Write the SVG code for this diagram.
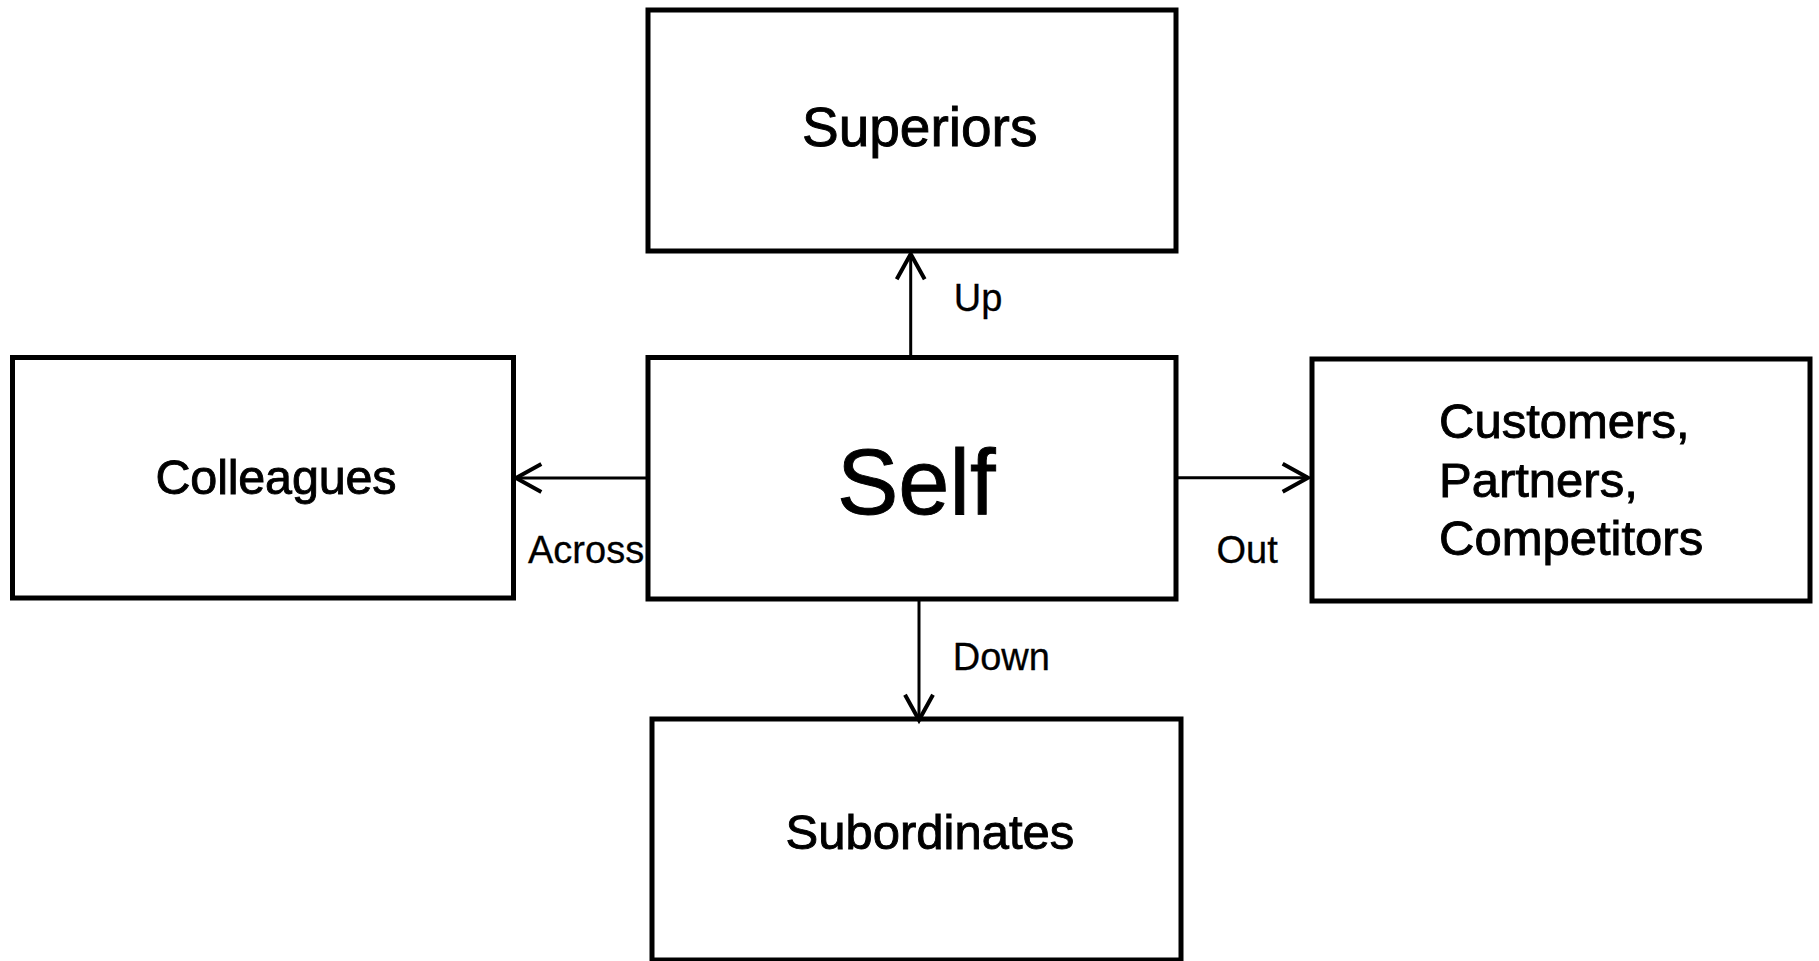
<svg xmlns="http://www.w3.org/2000/svg" width="1819" height="961" viewBox="0 0 1819 961">
<style>
.box{fill:#fff;stroke:#000;stroke-width:5}
.big{font-family:"Liberation Sans",Arial,sans-serif;fill:#000;stroke:#000;stroke-width:0.9}
.lbl{font-family:"Liberation Sans",Arial,sans-serif;font-size:38px;fill:#000;stroke:#000;stroke-width:0.3}
.conn{stroke:#000;stroke-width:3;fill:none}
</style>
<defs>
<marker id="arr" markerUnits="userSpaceOnUse" markerWidth="40" markerHeight="40" viewBox="-25 -15 30 30" refX="0" refY="0" orient="auto" overflow="visible">
<path d="M-19,-10.5 L0,0 L-19,10.5" fill="none" stroke="#000" stroke-width="3" stroke-linejoin="miter"/>
</marker>
</defs>
<rect width="1819" height="961" fill="#fff"/>
<g id="superiors">
<rect class="box" x="648" y="10" width="528" height="241"/>
<text class="big" x="802" y="146" font-size="55">Superiors</text>
</g>
<g id="self">
<rect class="box" x="648" y="357.5" width="528" height="241.5"/>
<text class="big" x="837" y="514" font-size="92">Self</text>
</g>
<g id="colleagues">
<rect class="box" x="12.5" y="357.5" width="501" height="240.5"/>
<text class="big" x="155.5" y="494" font-size="48.5" textLength="241">Colleagues</text>
</g>
<g id="customers">
<rect class="box" x="1312" y="359" width="498" height="242"/>
<text class="big" font-size="49"><tspan x="1439" y="438">Customers,</tspan><tspan x="1439" y="496.5">Partners,</tspan><tspan x="1439" y="555">Competitors</tspan></text>
</g>
<g id="subordinates">
<rect class="box" x="652" y="719" width="529" height="241"/>
<text class="big" x="785.5" y="849" font-size="49">Subordinates</text>
</g>
<g id="connectors">
<line class="conn" x1="910.7" y1="357" x2="910.7" y2="254" marker-end="url(#arr)"/>
<line class="conn" x1="919" y1="599" x2="919" y2="720" marker-end="url(#arr)"/>
<line class="conn" x1="648" y1="478" x2="516" y2="478" marker-end="url(#arr)"/>
<line class="conn" x1="1176" y1="477.7" x2="1308" y2="477.7" marker-end="url(#arr)"/>
<text class="lbl" x="953.7" y="310.5">Up</text>
<text class="lbl" x="952.7" y="669.5">Down</text>
<text class="lbl" x="528" y="562.5">Across</text>
<text class="lbl" x="1216.5" y="562.5">Out</text>
</g>
</svg>
